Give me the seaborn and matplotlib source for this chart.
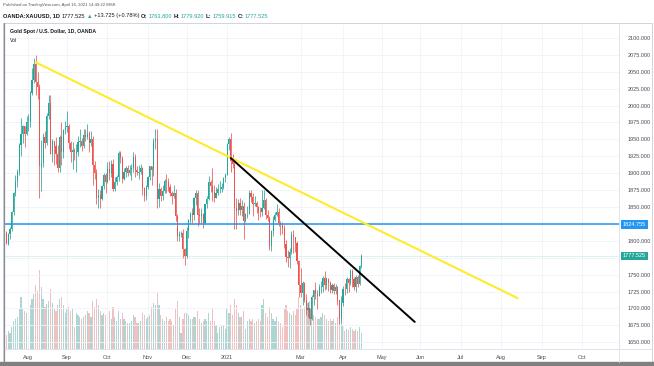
import numpy as np
import pandas as pd
import matplotlib
matplotlib.use("Agg")
import matplotlib.pyplot as plt
import matplotlib.transforms as mtransforms
from matplotlib.patches import Rectangle
from matplotlib.lines import Line2D
import seaborn as sns

# ---------------- data ----------------
start_date = "2020-07-16"
holidays = ["2020-12-25", "2021-01-01", "2021-04-02"]

opens = [
    1811,1796,1810,1817,1842,1871,1888,1902,1942,1958,1970,1958,
    1975,1976,2018,2038,2062,2035,2028,1911,1915,1954,1944,1985,2004,1929,1947,1940,1929,1908,1954,1931,1964,
    1968,1970,1944,1931,1934,1929,1932,1946,1947,1940,1956,1954,1960,1944,1950,1912,1900,1864,1868,1862,1881,1898,
    1887,1906,1900,1914,1877,1887,1894,1930,1922,1892,1902,1908,1900,1904,1907,1924,1904,1901,1902,1907,1878,1867,
    1879,1894,1910,1904,1947,1951,1862,1877,1866,1873,1888,1887,1880,1871,1866,1871,1837,1807,1810,1812,1788,
    1777,1815,1831,1841,1838,1863,1871,1838,1836,1839,1827,1854,1862,1887,1881,1872,1864,1871,1876,1877,1880,1893,
    1898,1943,1950,1918,1913,1849,1844,1856,1845,1851,1829,1839,1840,1871,1865,1855,1856,1850,1843,1842,
    1848,1860,1838,1834,1793,1814,1831,1838,1842,1826,1824,1819,1795,1776,1775,1784,1808,1805,1797,1770,
    1734,1723,1737,1713,1697,1700,1684,1717,1727,1722,1719,1731,1732,1745,1735,1744,1738,1727,1734,1726,1732,1712,1685,
    1708,1729,1728,1744,1737,1756,1744,1732,1746,1736,1763.8,
]
highs = [
    1815,1812,1820,1844,1872,1898,1906,1945,1981,1971,1970,1984,
    1987,2021,2055,2070,2075,2049,2032,1949,1959,1962,1989,2015,2015,1951,1948,1953,1942,1956,1976,1966,1977,
    1992,1973,1948,1946,1937,1943,1955,1965,1952,1965,1966,1973,1962,1962,1955,1918,1906,1876,1875,1882,1900,1900,
    1917,1918,1919,1921,1895,1897,1933,1933,1925,1908,1911,1912,1912,1913,1931,1928,1911,1912,1913,1909,1880,1882,
    1896,1911,1910,1952,1965,1966,1886,1879,1883,1892,1899,1893,1884,1873,1882,1876,1839,1815,1815,1817,1789,
    1820,1832,1843,1848,1865,1875,1875,1849,1848,1841,1855,1867,1896,1890,1907,1882,1879,1884,1889,1886,1895,1900,
    1944,1953,1959,1929,1917,1864,1862,1864,1860,1857,1841,1852,1875,1875,1870,1867,1859,1852,1850,1875,
    1875,1864,1846,1836,1816,1836,1843,1855,1849,1829,1828,1823,1801,1786,1790,1815,1816,1806,1799,1772,
    1760,1740,1739,1721,1710,1701,1720,1727,1739,1727,1736,1740,1748,1755,1746,1745,1740,1737,1738,1736,1733,1713,1718,
    1733,1738,1746,1745,1758,1758,1746,1749,1750,1764,1779.92,
]
lows = [
    1795,1794,1802,1814,1838,1866,1880,1897,1925,1944,1939,1956,
    1963,1969,2016,2033,2015,2010,1863,1874,1909,1937,1941,1980,1928,1916,1912,1914,1902,1902,1912,1922,1958,
    1961,1936,1917,1906,1920,1902,1926,1939,1933,1938,1947,1950,1932,1940,1882,1891,1855,1849,1848,1860,1876,1870,
    1885,1890,1895,1873,1874,1883,1889,1915,1885,1890,1894,1896,1898,1890,1902,1894,1898,1891,1899,1868,1859,1860,
    1876,1890,1882,1896,1936,1849,1850,1859,1861,1870,1870,1873,1866,1855,1864,1830,1800,1800,1805,1775,1764,
    1775,1804,1826,1826,1831,1853,1822,1825,1826,1819,1825,1848,1860,1872,1859,1858,1863,1868,1870,1872,1877,1887,
    1898,1935,1902,1907,1817,1817,1838,1838,1836,1803,1828,1834,1839,1858,1837,1851,1841,1831,1835,1836,
    1847,1832,1829,1786,1785,1807,1830,1836,1822,1808,1810,1790,1768,1761,1760,1781,1782,1783,1766,1717,
    1717,1705,1710,1690,1687,1676,1683,1705,1714,1699,1719,1723,1724,1727,1728,1726,1723,1723,1721,1722,1705,1677,1678,
    1704,1720,1723,1725,1735,1731,1727,1724,1732,1734,1759.915,
]
closes = [
    1796,1810,1817,1842,1871,1888,1902,1942,1958,1970,1958,1975,
    1976,2018,2038,2062,2035,2028,1911,1915,1954,1944,1985,2004,1929,1947,1940,1929,1908,1954,1931,1964,1968,
    1970,1944,1931,1934,1931,1932,1946,1947,1940,1956,1954,1960,1944,1950,1912,1900,1864,1868,1862,1881,1898,1887,
    1906,1900,1914,1877,1887,1894,1930,1922,1892,1902,1908,1900,1904,1907,1924,1904,1902,1902,1907,1878,1867,1879,
    1894,1910,1904,1947,1951,1862,1877,1866,1873,1888,1887,1880,1871,1866,1871,1837,1807,1810,1812,1788,1777,
    1815,1831,1841,1838,1863,1871,1838,1836,1839,1827,1854,1862,1887,1881,1872,1864,1871,1876,1877,1880,1893,1898,
    1943,1950,1918,1913,1849,1844,1856,1845,1851,1829,1839,1840,1871,1865,1855,1856,1850,1843,1842,1848,
    1860,1838,1834,1793,1814,1831,1838,1842,1826,1824,1819,1795,1776,1775,1784,1808,1805,1797,1770,1734,
    1723,1737,1713,1697,1700,1684,1717,1727,1722,1719,1731,1732,1745,1735,1744,1738,1727,1734,1726,1732,1712,1685,1708,
    1729,1728,1744,1737,1756,1744,1732,1746,1736,1763,1777.525,
]
volumes = [
    14,18,16,22,28,30,32,40,52,40,38,36,
    30,44,50,55,64,58,79,62,50,42,45,48,60,46,40,38,44,50,52,44,36,
    40,42,38,40,22,36,34,32,30,32,34,38,36,32,48,42,50,44,38,34,36,34,
    36,38,30,42,32,28,38,30,36,30,28,26,26,28,34,32,26,26,28,36,34,30,
    32,34,42,46,44,56,44,34,30,28,32,28,30,28,24,40,48,32,16,30,36,
    36,34,30,30,32,32,38,30,26,28,30,28,36,28,40,28,24,16,22,24,24,20,
    40,36,44,34,50,44,36,32,32,38,20,28,30,28,30,26,28,30,28,44,
    50,36,32,42,36,30,28,32,28,26,22,40,44,38,36,34,38,34,40,52,
    44,40,42,44,46,48,40,34,32,30,30,32,36,34,30,28,30,28,30,26,32,29,34,
    24,18,20,19,22,20,18,20,18,22,16,
]
assert len(opens) == len(highs) == len(lows) == len(closes) == len(volumes) == 194

month_labels = ["Aug", "Sep", "Oct", "Nov", "Dec", "2021", "Mar", "Apr", "May", "Jun", "Jul", "Aug", "Sep", "Oct"]
month_starts = ["2020-08-01", "2020-09-01", "2020-10-01", "2020-11-01", "2020-12-01", "2021-01-01",
                "2021-03-01", "2021-04-01", "2021-05-01", "2021-06-01", "2021-07-01", "2021-08-01",
                "2021-09-01", "2021-10-01"]
price_ticks = list(range(1650, 2101, 25))
hidden_price_labels = [1825, 1775]   # covered by the value boxes
resistance = 1824.755
last_price = 1777.525
yellow_dates = ["2020-08-07", "2021-08-13"]
yellow_prices = [2064, 1715]
black_dates = ["2021-01-06", "2021-05-27"]
black_prices = [1922.5, 1680]

# ---------------- calendar / positions ----------------
days = pd.bdate_range(start_date, "2021-11-10")
days = days[~days.isin(pd.to_datetime(holidays))]
n = len(closes)
idx = np.arange(n)

def pos(d):
    return int(np.searchsorted(days.values, np.datetime64(pd.Timestamp(d))))

UP, DOWN = "#26a69a", "#ef5350"
o = np.array(opens, float); c = np.array(closes, float)
h = np.array(highs, float); l = np.array(lows, float)
up = c >= o
cols = np.where(up, UP, DOWN)

# ---------------- figure ----------------
sns.set_theme(style="white")
FONT = ["Liberation Sans", "DejaVu Sans"]
plt.rcParams["font.family"] = FONT
W, H = 654, 366
fig = plt.figure(figsize=(W / 100, H / 100), dpi=100)
fig.patch.set_facecolor("white")

L, R, T, B = 5, 619, 25, 349
ax = fig.add_axes([L / W, 1 - B / H, (R - L) / W, (B - T) / H])
ax.set_facecolor("none")
axv = ax.twinx()
ax.set_zorder(axv.get_zorder() + 1)
axv.set_zorder(0)

# volume (seaborn)
vdf = pd.DataFrame({"i": idx, "vol": volumes, "dir": np.where(up, "up", "down")})
sns.barplot(data=vdf, x="i", y="vol", hue="dir", palette={"up": UP, "down": DOWN},
            native_scale=True, dodge=False, width=0.65, errorbar=None, legend=False,
            alpha=0.4, linewidth=0, ax=axv)
axv.set_ylim(0, B - T)
axv.set_yticks([])
axv.set_ylabel("")
axv.set_xlabel("")
for s in axv.spines.values():
    s.set_visible(False)

xlim = (-0.7, 333)
ymin = 2100 - (B - 38) / 0.676
ymax = 2100 + (38 - T) / 0.676

# grid
for p in price_ticks:
    ax.axhline(p, color="#f0f3fa", lw=0.6, zorder=0)
mpos = [pos(m) for m in month_starts]
for mp in mpos:
    ax.axvline(mp, color="#f0f3fa", lw=0.6, zorder=0)

# candles
ax.vlines(idx, l, h, colors=cols, lw=0.55, zorder=3)
body_lo = np.minimum(o, c)
body_h = np.maximum(np.abs(c - o), 0.8)
ax.bar(idx, body_h, bottom=body_lo, width=0.62, color=cols, linewidth=0, zorder=4)

# lines
ax.axhline(last_price, color=UP, lw=0.6, alpha=0.35, ls=(0, (1, 1)), zorder=2)
ax.axhline(resistance, color="#2196f3", lw=1.1, zorder=5)
sns.lineplot(x=[pos(d) for d in yellow_dates], y=yellow_prices, color="#ffeb2a", lw=1.5, ax=ax, zorder=6)
sns.lineplot(x=[pos(d) for d in black_dates], y=black_prices, color="#000000", lw=1.4, ax=ax, zorder=7)

ax.set_xlim(*xlim)
axv.set_xlim(*xlim)
ax.set_ylim(ymin, ymax)
ax.set_xlabel(""); ax.set_ylabel("")

# axes ticks
shown = [p for p in price_ticks if p not in hidden_price_labels]
ax.yaxis.tick_right()
ax.set_yticks(shown)
ax.set_yticklabels([f"{p:.3f}" for p in shown], fontsize=4, color="#4a4d57")
ax.tick_params(axis="y", length=0, pad=6)
ax.set_xticks(mpos)
ax.set_xticklabels(month_labels, fontsize=4, color="#4a4d57")
ax.tick_params(axis="x", length=0, pad=4)
for s in ax.spines.values():
    s.set_visible(False)

# price labels on the axis
trans = mtransforms.blended_transform_factory(ax.transAxes, ax.transData)
for val, colr in [(resistance, "#2196f3"), (last_price, UP)]:
    ax.text(1.006, val, f"{val:.3f}", transform=trans, fontsize=4, color="white", va="center", ha="left",
            bbox=dict(boxstyle="square,pad=0.35", fc=colr, ec="none"), zorder=10, clip_on=False)

# frame lines (screenshot panel)
def fx(x): return x / W
def fy(y): return 1 - y / H
fig.add_artist(Rectangle((fx(3), fy(362)), fx(652) - fx(3), fy(23) - fy(362), fill=False,
                         ec="#d1d4dc", lw=0.7, transform=fig.transFigure))
fig.add_artist(Line2D([fx(R), fx(R)], [fy(23), fy(362)], color="#e0e3eb", lw=0.7, transform=fig.transFigure))
fig.add_artist(Line2D([fx(3), fx(652)], [fy(B), fy(B)], color="#e0e3eb", lw=0.7, transform=fig.transFigure))
fig.add_artist(Line2D([fx(3.5), fx(3.5)], [fy(23), fy(362)], color="#8a8d96", lw=0.9, transform=fig.transFigure))
fig.add_artist(Rectangle((0, 0), 1, fy(362), color="#808080", transform=fig.transFigure))

# header texts
fig.text(fx(3), fy(5), "Published on TradingView.com, April 16, 2021 14:49:22 MSK", fontsize=3.1,
         color="#555555", va="center", ha="left")

fig.canvas.draw()
rend = fig.canvas.get_renderer()

def seq(x0, y0, parts, size):
    x = x0
    for s, colr, wt in parts:
        t = fig.text(fx(x), fy(y0), s, fontsize=size, color=colr, fontweight=wt, va="center", ha="left")
        x += t.get_window_extent(renderer=rend).width + 1.5

DARK = "#131722"
seq(3, 16, [("OANDA:XAUUSD, 1D", DARK, "bold"), ("1777.525", DARK, "normal"), ("▲", UP, "normal"),
            ("+13.725 (+0.78%)", DARK, "normal"), ("O:", DARK, "bold"), ("1763.800", UP, "normal"),
            ("H:", DARK, "bold"), ("1779.920", UP, "normal"), ("L:", DARK, "bold"), ("1759.915", UP, "normal"),
            ("C:", DARK, "bold"), ("1777.525", UP, "normal")], 4.1)

fig.text(fx(10), fy(31), "Gold Spot / U.S. Dollar, 1D, OANDA", fontsize=3.7, color=DARK,
         fontweight="bold", va="center", ha="left")
fig.text(fx(10), fy(40), "Vol", fontsize=3.7, color=DARK, va="center", ha="left")

fig.savefig("out.png", dpi=100, facecolor="white")
